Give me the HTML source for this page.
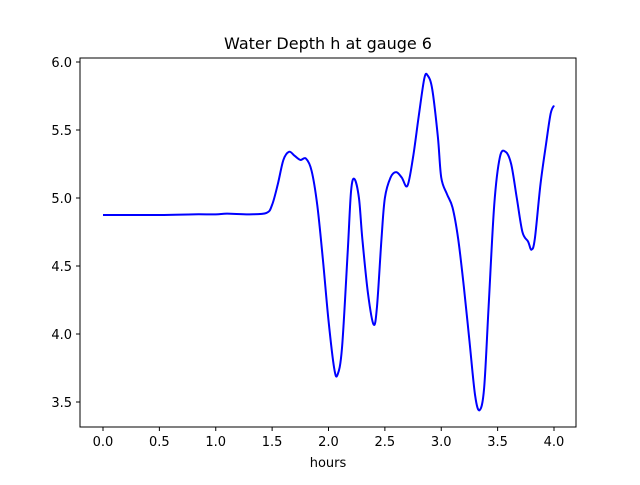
<!DOCTYPE html>
<html><head><meta charset="utf-8"><style>
body{margin:0;background:#fff;font-family:"Liberation Sans","DejaVu Sans",sans-serif}
svg text{font-family:"DejaVu Sans","Liberation Sans",sans-serif;fill:#000}
</style></head><body>
<svg width="640" height="480">
<rect width="640" height="480" fill="#fff"/>
<text x="328" y="49" font-size="16" text-anchor="middle">Water Depth h at gauge 6</text>
<g id="xt"></g>
<g id="yt"></g>
<path id="line" fill="none" stroke="#0000ff" stroke-width="2"/>
<rect x="80" y="58" width="496" height="369" fill="none" stroke="#000" stroke-width="1"/>
<text x="328" y="467" font-size="13" text-anchor="middle">hours</text>
</svg>
<script>
const hours=[0,0.5,0.8,1.0,1.1,1.3,1.45,1.5,1.55,1.6,1.65,1.7,1.75,1.8,1.85,1.9,1.95,2.0,2.05,2.08,2.12,2.17,2.2,2.23,2.27,2.3,2.35,2.4,2.43,2.47,2.5,2.55,2.6,2.65,2.7,2.75,2.8,2.85,2.88,2.92,2.97,3.0,3.05,3.1,3.15,3.2,3.25,3.3,3.34,3.38,3.42,3.47,3.52,3.57,3.62,3.67,3.72,3.77,3.8,3.83,3.88,3.93,3.97,4.0];
const depth=[4.875,4.875,4.88,4.88,4.885,4.88,4.89,4.95,5.1,5.28,5.34,5.31,5.28,5.29,5.2,4.95,4.55,4.1,3.75,3.7,3.9,4.6,5.05,5.14,5.0,4.7,4.3,4.07,4.2,4.7,5.0,5.15,5.19,5.15,5.09,5.3,5.6,5.88,5.9,5.8,5.45,5.15,5.03,4.93,4.7,4.35,3.95,3.55,3.44,3.6,4.2,4.95,5.3,5.34,5.25,5.0,4.75,4.68,4.62,4.7,5.1,5.4,5.62,5.68];
const xTicks=[0,0.5,1.0,1.5,2.0,2.5,3.0,3.5,4.0];
const yTicks=[3.5,4.0,4.5,5.0,5.5,6.0];
const X=v=>103+v*112.75, Y=v=>62+(6.0-v)*136;
const NS="http://www.w3.org/2000/svg";
const xt=document.getElementById('xt'), yt=document.getElementById('yt');
xTicks.forEach(t=>{
  const l=document.createElementNS(NS,'line');
  
  
  l.setAttribute('x1',X(t));l.setAttribute('x2',X(t));l.setAttribute('y1',427);l.setAttribute('y2',431);l.setAttribute('stroke','#000');
  xt.appendChild(l);
  const s=document.createElementNS(NS,'text');
  
  
  s.setAttribute('x',X(t));s.setAttribute('y',446);s.setAttribute('font-size','13');s.setAttribute('text-anchor','middle');
  s.textContent=t.toFixed(1);xt.appendChild(s);
});
yTicks.forEach(t=>{
  const l=document.createElementNS(NS,'line');
  
  
  l.setAttribute('x1',76);l.setAttribute('x2',80);l.setAttribute('y1',Y(t));l.setAttribute('y2',Y(t));l.setAttribute('stroke','#000');
  yt.appendChild(l);
  const s=document.createElementNS(NS,'text');
  
  
  s.setAttribute('x',72);s.setAttribute('y',Y(t)+5);s.setAttribute('font-size','13');s.setAttribute('text-anchor','end');
  s.textContent=t.toFixed(1);yt.appendChild(s);
});
const P=hours.map((h,i)=>[X(h),Y(depth[i])]);
let d='M'+P[0][0]+','+P[0][1];
for(let i=0;i<P.length-1;i++){
  const p0=P[Math.max(i-1,0)],p1=P[i],p2=P[i+1],p3=P[Math.min(i+2,P.length-1)];
  const c1=[p1[0]+(p2[0]-p0[0])/6,p1[1]+(p2[1]-p0[1])/6];
  const c2=[p2[0]-(p3[0]-p1[0])/6,p2[1]-(p3[1]-p1[1])/6];
  d+=' C'+c1+' '+c2+' '+p2;
}
document.getElementById('line').setAttribute('d',d);
</script>
</body></html>
